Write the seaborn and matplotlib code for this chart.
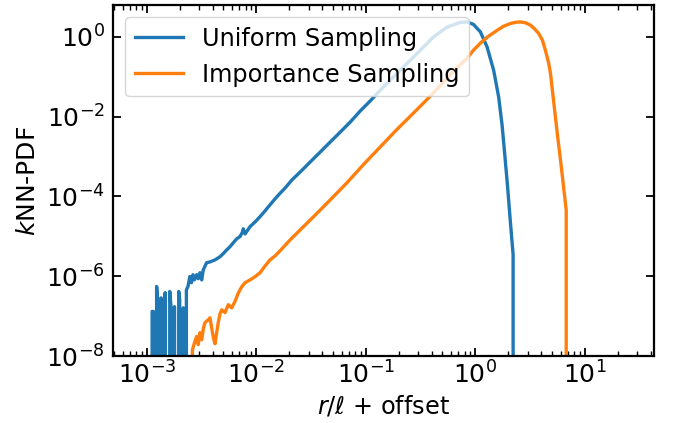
import numpy as np
import pandas as pd
import matplotlib
matplotlib.use('Agg')
import matplotlib.pyplot as plt
import seaborn as sns
from matplotlib.ticker import LogLocator, NullLocator

# values, stored as log10; -inf marks an empty bin (pdf = 0)
NEG = -np.inf

uniform_log_r = [
    -2.960, -2.953, -2.942, -2.932, -2.912, -2.902, -2.896, -2.871, -2.859, -2.834,
    -2.827, -2.792, -2.781, -2.772, -2.749, -2.736, -2.710, -2.701, -2.690, -2.669,
    -2.658, -2.640, -2.626, -2.608, -2.594, -2.580, -2.567, -2.546, -2.532, -2.516,
    -2.500, -2.486, -2.455, -2.425, -2.379, -2.333, -2.306, -2.272, -2.242, -2.211,
    -2.180, -2.150, -2.127, -2.120, -2.104, -2.058, -2.013, -1.967, -1.921, -1.876,
    -1.830, -1.784, -1.738, -1.677, -1.601, -1.510, -1.418, -1.327, -1.235, -1.144,
    -1.052, -0.961, -0.869, -0.778, -0.686, -0.595, -0.503, -0.384, -0.259, -0.137,
    -0.076, -0.018, 0.046, 0.107, 0.167, 0.213, 0.244, 0.265, 0.293, 0.320,
    0.345, 0.346,
]
uniform_log_pdf = [
    NEG, -6.88, -6.88, NEG, -6.255, -6.59, NEG, -6.54, NEG, -6.41,
    NEG, -6.38, -6.74, NEG, -6.76, NEG, -6.38, -6.59, NEG, -6.79,
    NEG, -6.34, -6.26, -6.005, -6.16, -5.96, -6.09, -5.96, -6.06, -5.91,
    -6.09, -5.84, -5.66, -5.64, -5.59, -5.51, -5.44, -5.34, -5.26, -5.16,
    -5.06, -5.005, -4.89, -4.81, -4.94, -4.755, -4.64, -4.505, -4.36, -4.21,
    -4.06, -3.92, -3.79, -3.59, -3.39, -3.14, -2.89, -2.64, -2.39, -2.14,
    -1.86, -1.61, -1.34, -1.09, -0.84, -0.59, -0.34, -0.01, 0.24, 0.36,
    0.37, 0.31, 0.12, -0.255, -0.84, -1.51, -2.21, -2.84, -3.71, -4.64,
    -5.46, NEG,
]

importance_log_r = [
    -2.594, -2.585, -2.562, -2.546, -2.532, -2.516, -2.500, -2.484, -2.470, -2.440,
    -2.425, -2.409, -2.393, -2.379, -2.363, -2.349, -2.333, -2.317, -2.287, -2.257,
    -2.226, -2.196, -2.166, -2.134, -2.104, -2.058, -2.013, -1.967, -1.921, -1.876,
    -1.830, -1.784, -1.693, -1.601, -1.479, -1.327, -1.174, -1.025, -0.869, -0.723,
    -0.565, -0.412, -0.259, -0.174, -0.076, -0.018, 0.046, 0.119, 0.199, 0.256,
    0.320, 0.366, 0.412, 0.457, 0.503, 0.540, 0.579, 0.613, 0.640, 0.668,
    0.686, 0.714, 0.750, 0.778, 0.805, 0.830, 0.831,
]
importance_log_pdf = [
    NEG, -7.84, -7.63, -7.505, -7.71, -7.41, -7.59, -7.29, -7.16, -7.09,
    -7.04, -7.29, -7.54, -7.69, -7.41, -7.16, -6.94, -6.84, -6.91, -6.71,
    -6.79, -6.63, -6.42, -6.26, -6.16, -6.09, -6.01, -5.91, -5.74, -5.59,
    -5.49, -5.36, -5.09, -4.84, -4.51, -4.09, -3.66, -3.21, -2.76, -2.34,
    -1.91, -1.49, -1.04, -0.79, -0.54, -0.34, -0.16, 0.01, 0.16, 0.26,
    0.33, 0.36, 0.37, 0.35, 0.29, 0.20, 0.08, -0.09, -0.34, -0.64,
    -0.91, -1.59, -2.46, -3.09, -3.74, -4.34, NEG,
]

labels = ['Uniform Sampling', 'Importance Sampling']
colors = ['#1f77b4', '#ff7f0e']

uniform = pd.DataFrame({'r': 10 ** np.array(uniform_log_r),
                        'pdf': 10 ** np.array(uniform_log_pdf)})
importance = pd.DataFrame({'r': 10 ** np.array(importance_log_r),
                           'pdf': 10 ** np.array(importance_log_pdf)})

plt.rcParams['xtick.direction'] = 'in'
plt.rcParams['ytick.direction'] = 'in'

fig = plt.figure(figsize=(6.73, 4.23), dpi=100)
ax = fig.add_axes([0.168, 0.158, 0.804, 0.830])

for df, lab, col in zip([uniform, importance], labels, colors):
    sns.lineplot(data=df, x='r', y='pdf', ax=ax, color=col, label=lab,
                 lw=2.4, estimator=None, sort=False)

ax.set_xscale('log')
ax.set_yscale('log')
ax.set_xlim(4.9e-4, 43)
ax.set_ylim(1e-8, 6.2)

ax.set_yticks([1e-8, 1e-6, 1e-4, 1e-2, 1e0])
ax.yaxis.set_minor_locator(NullLocator())
ax.xaxis.set_major_locator(LogLocator(base=10, numticks=20))
ax.xaxis.set_minor_locator(LogLocator(base=10, subs=np.arange(2, 10), numticks=20))

ax.tick_params(which='both', top=True, right=True, labelsize=18)
ax.tick_params(which='major', length=6, width=1.3)
ax.tick_params(which='minor', length=3.3, width=1.0)
ax.tick_params(axis='y', pad=6)
for s in ax.spines.values():
    s.set_linewidth(1.6)

ax.set_xlabel(r'$r/\ell$ + offset', fontsize=17.3)
ax.set_ylabel(r'$k$NN-PDF', fontsize=18)
ax.legend(loc='upper left', fontsize=17.3)

fig.savefig('out.png', dpi=100)
